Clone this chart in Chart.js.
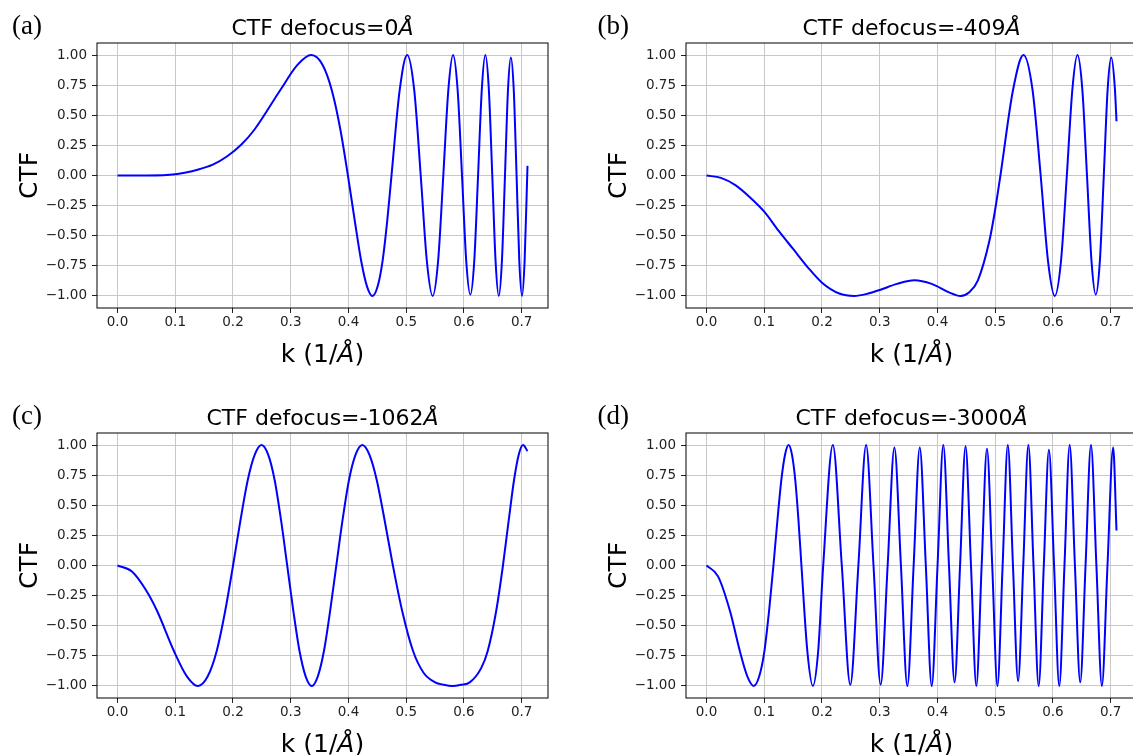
<!DOCTYPE html>
<html>
<head>
<meta charset="utf-8">
<title>CTF defocus</title>
<script src="https://cdn.jsdelivr.net/npm/chart.js@4.4.0/dist/chart.umd.min.js"></script>
<style>
    html, body { margin: 0; padding: 0; background: #fff; width: 1133px; height: 755px; overflow: hidden; }
    canvas { position: absolute; }
</style>
</head>
<body>
<canvas id="chartA" width="560" height="377" style="left:0px;top:0px"></canvas>
<canvas id="chartB" width="560" height="377" style="left:589px;top:0px"></canvas>
<canvas id="chartC" width="560" height="377" style="left:0px;top:390px"></canvas>
<canvas id="chartD" width="560" height="377" style="left:589px;top:390px"></canvas>
<script>
// values: k (1/Å) and CTF
const kA = [0, 0.05, 0.10, 0.14, 0.165, 0.19, 0.215, 0.237, 0.282, 0.312,
    0.3355, 0.355, 0.371, 0.386, 0.399, 0.411, 0.422, 0.432, 0.4415, 0.4505,
    0.459, 0.467, 0.4745, 0.4887, 0.5017, 0.5138, 0.5251, 0.5357, 0.5457, 0.5552,
    0.5642, 0.5729, 0.5811, 0.5890, 0.5966, 0.6039, 0.6110, 0.6178, 0.6244, 0.6308,
    0.6370, 0.6431, 0.6490, 0.6547, 0.6603, 0.6657, 0.6710, 0.6762, 0.6812, 0.6862,
    0.6911, 0.6958, 0.7005, 0.7050, 0.7095, 0.71];
const ctfA = [0, 0.00, 0.01, 0.05, 0.09, 0.16, 0.26, 0.38, 0.71, 0.92,
    1.00, 0.92, 0.71, 0.38, 0, -0.38, -0.71, -0.92, -1.00, -0.92,
    -0.71, -0.38, 0, 0.71, 1.00, 0.71, 0, -0.71, -1.00, -0.71,
    0, 0.71, 1.00, 0.71, 0, -0.71, -0.99, -0.71, 0, 0.71,
    1.00, 0.71, 0, -0.71, -1.00, -0.71, 0, 0.71, 0.98, 0.71,
    0, -0.71, -1.00, -0.71, 0, 0.08];

const kB = [0, 0.025, 0.05, 0.075, 0.10, 0.125, 0.15, 0.175, 0.20, 0.23,
    0.2557, 0.28, 0.30, 0.33, 0.36, 0.39, 0.42, 0.44, 0.455, 0.47,
    0.49, 0.50, 0.509, 0.5308, 0.5489, 0.5646, 0.5787, 0.5914, 0.6031, 0.6139,
    0.6240, 0.6335, 0.6424, 0.6509, 0.6589, 0.6667, 0.6741, 0.6812, 0.6880, 0.6946,
    0.7009, 0.7071, 0.71];
const ctfB = [0, -0.02, -0.08, -0.18, -0.30, -0.46, -0.61, -0.76, -0.89, -0.98,
    -1.00, -0.98, -0.95, -0.90, -0.87, -0.90, -0.97, -1.00, -0.97, -0.87,
    -0.54, -0.28, 0, 0.71, 1.00, 0.71, 0, -0.71, -1.00, -0.71,
    0, 0.71, 1.00, 0.71, 0, -0.71, -0.99, -0.71, 0, 0.71,
    0.98, 0.73, 0.45];

const kC = [0, 0.025, 0.05, 0.0688, 0.0977, 0.1201, 0.1393, 0.1563, 0.1718, 0.1864,
    0.2001, 0.2131, 0.2256, 0.2377, 0.2494, 0.2609, 0.2721, 0.2831, 0.2939, 0.3046,
    0.3152, 0.3258, 0.3364, 0.3469, 0.3575, 0.3681, 0.3789, 0.3898, 0.4009, 0.4123,
    0.4240, 0.4362, 0.4489, 0.4624, 0.4769, 0.4931, 0.5118, 0.53, 0.55, 0.565,
    0.58, 0.595, 0.61, 0.63, 0.6411, 0.6557, 0.6675, 0.6776, 0.6867, 0.6948,
    0.7023, 0.71];
const ctfC = [0, -0.05, -0.21, -0.38, -0.71, -0.92, -1.00, -0.92, -0.71, -0.38,
    0, 0.38, 0.71, 0.92, 1.00, 0.92, 0.71, 0.38, 0, -0.38,
    -0.71, -0.92, -1.00, -0.92, -0.71, -0.38, 0, 0.38, 0.71, 0.92,
    1.00, 0.92, 0.71, 0.38, 0, -0.38, -0.71, -0.89, -0.97, -0.99,
    -1.00, -0.99, -0.97, -0.85, -0.71, -0.38, 0, 0.38, 0.71, 0.92,
    1.00, 0.95];

const kD = [0, 0.02, 0.0408, 0.0577, 0.0707, 0.0818, 0.0913, 0.1003, 0.1083, 0.1159,
    0.1229, 0.1296, 0.1360, 0.1422, 0.1480, 0.1537, 0.1592, 0.1644, 0.1746, 0.1842,
    0.1934, 0.2021, 0.2188, 0.2343, 0.2490, 0.2630, 0.2764, 0.2892, 0.3016, 0.3137,
    0.3254, 0.3367, 0.3478, 0.3587, 0.3693, 0.3798, 0.3900, 0.4001, 0.4101, 0.4199,
    0.4296, 0.4391, 0.4486, 0.4580, 0.4673, 0.4765, 0.4857, 0.4948, 0.5038, 0.5128,
    0.5218, 0.5307, 0.5396, 0.5485, 0.5574, 0.5663, 0.5752, 0.5841, 0.5930, 0.6019,
    0.6109, 0.6199, 0.6289, 0.6380, 0.6472, 0.6564, 0.6658, 0.6752, 0.6847, 0.6944,
    0.7042, 0.71];
const ctfD = [0, -0.09, -0.38, -0.71, -0.92, -1.00, -0.92, -0.71, -0.38, 0,
    0.38, 0.71, 0.92, 1.00, 0.92, 0.71, 0.38, 0, -0.71, -1.00,
    -0.71, 0, 1.00, 0, -0.99, 0, 1.00, 0, -0.99, 0,
    0.98, 0, -1.00, 0, 0.98, 0, -1.00, 0, 1.00, 0,
    -0.97, 0, 0.99, 0, -1.00, 0, 0.97, 0, -1.00, 0,
    1.00, 0, -0.96, 0, 1.00, 0, -1.00, 0, 0.96, 0,
    -1.00, 0, 1.00, 0, -0.97, 0, 1.00, 0, -1.00, 0,
    0.98, 0.29];

const xTicks = [0, 0.1, 0.2, 0.3, 0.4, 0.5, 0.6, 0.7];
const xTickLabels = ['0.0', '0.1', '0.2', '0.3', '0.4', '0.5', '0.6', '0.7'];
const yTicks = [-1, -0.75, -0.5, -0.25, 0, 0.25, 0.5, 0.75, 1];
const yTickLabels = ['\u22121.00', '\u22120.75', '\u22120.50', '\u22120.25', '0.00', '0.25', '0.50', '0.75', '1.00'];
const titles = ['CTF defocus=0', 'CTF defocus=-409', 'CTF defocus=-1062', 'CTF defocus=-3000'];
const tags = ['(a)', '(b)', '(c)', '(d)'];

const FONT = '"DejaVu Sans", sans-serif';

// draw a run of text pieces, some italic, centred on cx
const drawMixed = (ctx, parts, cx, y, size) => {
    const fonts = parts.map(p => (p[1] ? 'italic ' : '') + size + 'px ' + FONT);
    const widths = parts.map((p, i) => { ctx.font = fonts[i]; return ctx.measureText(p[0]).width; });
    let x = cx - widths.reduce((a, b) => a + b, 0) / 2;
    ctx.textAlign = 'left';
    ctx.textBaseline = 'alphabetic';
    parts.forEach((p, i) => {
        ctx.font = fonts[i];
        ctx.fillText(p[0], x, y);
        x += widths[i];
    });
};

const framePlugin = {
    id: 'frame',
    afterDatasetsDraw(chart) {
        const { ctx, chartArea: a } = chart;
        ctx.save();
        ctx.strokeStyle = '#000';
        ctx.lineWidth = 1;
        ctx.strokeRect(a.left, a.top, a.right - a.left, a.bottom - a.top);
        ctx.restore();
    }
};

const textPlugin = {
    id: 'panelText',
    afterDraw(chart, args, opts) {
        const { ctx, chartArea: a } = chart;
        const cx = (a.left + a.right) / 2;
        ctx.save();
        ctx.fillStyle = '#000';
        drawMixed(ctx, [[opts.title, false], ['\u00c5', true]], cx, a.top - 8, 22);
        drawMixed(ctx, [['k (1/', false], ['\u00c5', true], [')', false]], cx, a.bottom + 54, 25);
        ctx.font = '27px "Liberation Serif", serif';
        ctx.textAlign = 'left';
        ctx.textBaseline = 'alphabetic';
        ctx.fillText(opts.tag, opts.tagX, 34);
        ctx.restore();
    }
};

const makeChart = (id, ks, ctf, title, tag, tagX) => {
    const points = ks.map((k, i) => ({ x: k, y: ctf[i] }));
    return new Chart(document.getElementById(id), {
        type: 'line',
        data: {
            datasets: [{
                data: points,
                borderColor: '#0000ff',
                borderWidth: 2,
                pointRadius: 0,
                fill: false,
                cubicInterpolationMode: 'monotone'
            }]
        },
        options: {
            responsive: false,
            animation: false,
            events: [],
            layout: { padding: { top: 43, right: 12, left: 0, bottom: 0 } },
            plugins: {
                legend: { display: false },
                tooltip: { enabled: false },
                panelText: { title, tag, tagX }
            },
            scales: {
                x: {
                    type: 'linear',
                    min: -0.0355,
                    max: 0.7455,
                    afterFit: s => { s.height = 69; },
                    afterBuildTicks: s => { s.ticks = xTicks.map(v => ({ value: v })); },
                    ticks: {
                        callback: (v, i) => xTickLabels[i],
                        font: { family: FONT, size: 13.5 },
                        color: '#222',
                        padding: 1,
                        maxRotation: 0,
                        autoSkip: false
                    },
                    grid: { color: '#c8c8c8', lineWidth: 1, tickLength: 5, tickColor: '#222' },
                    border: { display: false }
                },
                y: {
                    min: -1.1,
                    max: 1.1,
                    afterFit: s => { s.width = 97; },
                    afterBuildTicks: s => { s.ticks = yTicks.map(v => ({ value: v })); },
                    ticks: {
                        callback: (v, i) => yTickLabels[i],
                        font: { family: FONT, size: 13.5 },
                        color: '#222',
                        padding: 5,
                        autoSkip: false
                    },
                    grid: { color: '#c8c8c8', lineWidth: 1, tickLength: 5, tickColor: '#222' },
                    border: { display: false },
                    title: {
                        display: true,
                        text: 'CTF',
                        color: '#000',
                        font: { family: FONT, size: 25 },
                        padding: { top: 15, bottom: 0 }
                    }
                }
            }
        },
        plugins: [framePlugin, textPlugin]
    });
};

makeChart('chartA', kA, ctfA, titles[0], tags[0], 12);
makeChart('chartB', kB, ctfB, titles[1], tags[1], 8.5);
makeChart('chartC', kC, ctfC, titles[2], tags[2], 12);
makeChart('chartD', kD, ctfD, titles[3], tags[3], 8.5);
</script>
</body>
</html>
